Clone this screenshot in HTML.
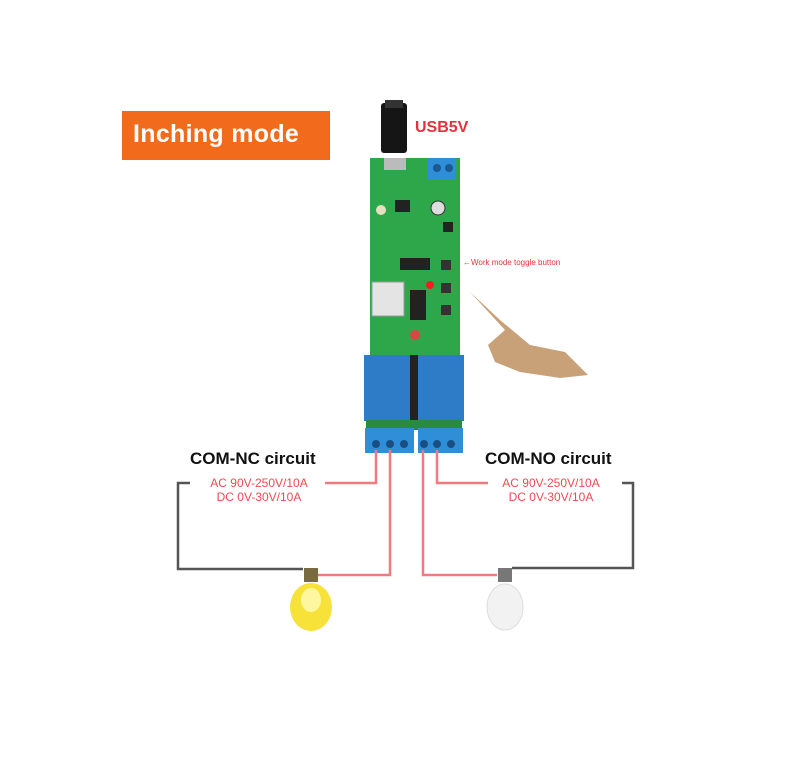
<!DOCTYPE html>
<html><head><style>
body{margin:0;width:785px;height:760px;background:#fff;position:relative;overflow:hidden;font-family:"Liberation Sans",sans-serif}
.a{position:absolute}
</style></head><body>
<div class="a" style="left:122px;top:111px;width:208px;height:49px;background:#f26a1b"></div>
<div class="a" style="left:133px;top:120px;color:#fff;font-weight:bold;font-size:25px;letter-spacing:0.3px">Inching mode</div>
<div class="a" style="left:415px;top:119px;color:#e8303a;font-size:16px;font-weight:bold">USB5V</div>
<div class="a" style="left:463px;top:258px;color:#e8303a;font-size:8px">←Work mode toggle button</div>
<div class="a" style="left:190px;top:449px;font-weight:bold;font-size:17px;color:#111">COM-NC circuit</div>
<div class="a" style="left:485px;top:449px;font-weight:bold;font-size:17px;color:#111">COM-NO circuit</div>
<div class="a" style="left:198px;top:476px;color:#ef4a52;font-size:12px;line-height:14px;text-align:center;width:122px">AC 90V-250V/10A<br>DC 0V-30V/10A</div>
<div class="a" style="left:492px;top:476px;color:#ef4a52;font-size:12px;line-height:14px;text-align:center;width:118px">AC 90V-250V/10A<br>DC 0V-30V/10A</div>
<svg class="a" style="left:0;top:0" width="785" height="760">
<!-- usb plug -->
<rect x="381" y="103" width="26" height="50" rx="3" fill="#151515"/>
<rect x="385" y="100" width="18" height="8" fill="#333"/>
<!-- board -->
<rect x="370" y="158" width="90" height="198" fill="#2ea64a"/>
<rect x="384" y="158" width="22" height="12" fill="#bbb"/>
<rect x="428" y="158" width="28" height="22" fill="#2f8ed8"/>
<circle cx="437" cy="168" r="4" fill="#1a5a90"/><circle cx="449" cy="168" r="4" fill="#1a5a90"/>
<circle cx="438" cy="208" r="7" fill="#ddd" stroke="#333"/>
<circle cx="381" cy="210" r="5" fill="#e5e0c0"/>
<rect x="400" y="258" width="30" height="12" fill="#222"/>
<rect x="410" y="290" width="16" height="30" fill="#222"/>
<rect x="372" y="282" width="32" height="34" fill="#e4e4e4" stroke="#999"/>
<rect x="441" y="260" width="10" height="10" fill="#333"/>
<rect x="441" y="283" width="10" height="10" fill="#333"/>
<rect x="441" y="305" width="10" height="10" fill="#333"/>
<circle cx="430" cy="285" r="4" fill="#f02020"/>
<circle cx="415" cy="335" r="5" fill="#d44"/>
<rect x="395" y="200" width="15" height="12" fill="#222"/>
<rect x="443" y="222" width="10" height="10" fill="#222"/>
<!-- relays -->
<rect x="364" y="355" width="46" height="66" fill="#2e7cc8"/>
<rect x="418" y="355" width="46" height="66" fill="#2e7cc8"/>
<rect x="410" y="355" width="8" height="66" fill="#222"/>
<rect x="366" y="420" width="96" height="10" fill="#2a8a40"/>
<rect x="365" y="428" width="49" height="25" fill="#2e8ed8"/>
<rect x="418" y="428" width="45" height="25" fill="#2e8ed8"/>
<g fill="#1b4e80"><circle cx="376" cy="444" r="4"/><circle cx="390" cy="444" r="4"/><circle cx="404" cy="444" r="4"/><circle cx="424" cy="444" r="4"/><circle cx="437" cy="444" r="4"/><circle cx="451" cy="444" r="4"/></g>
<!-- hand -->
<path d="M470 292 L500 320 L530 345 L565 352 L588 375 L560 378 L520 372 L495 362 L488 345 L505 330 Z" fill="#c9a179"/>
<!-- wires -->
<g fill="none" stroke-width="2.5">
<path d="M190 483 H178 V569 H303" stroke="#555"/>
<path d="M622 483 H633 V568 H512" stroke="#555"/>
<path d="M325 483 H376 V450" stroke="#ef7a80"/>
<path d="M390 450 V575 H318" stroke="#ef7a80"/>
<path d="M423 450 V575 H497" stroke="#ef7a80"/>
<path d="M437 450 V483 H488" stroke="#ef7a80"/>
</g>
<!-- bulbs -->
<rect x="304" y="568" width="14" height="14" fill="#7a6a40"/>
<ellipse cx="311" cy="607" rx="21" ry="24" fill="#f7e23a"/>
<ellipse cx="311" cy="600" rx="10" ry="12" fill="#fff6a0"/>
<rect x="498" y="568" width="14" height="14" fill="#777"/>
<ellipse cx="505" cy="607" rx="18" ry="23" fill="#f2f2f2" stroke="#ddd"/>
</svg>
</body></html>
